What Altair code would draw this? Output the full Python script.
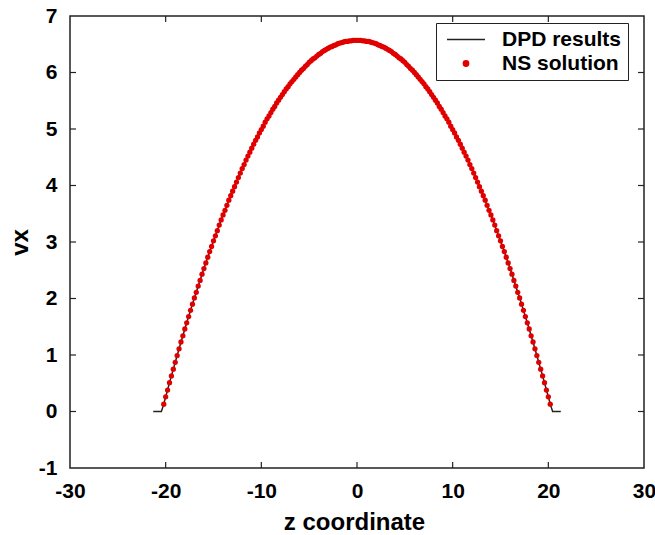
import altair as alt
import pandas as pd

# ---- data ----
series_names = ["DPD results", "NS solution"]

# NS solution sampled every 0.2 along z
ns_z = [round(-20.2 + 0.2 * i, 1) for i in range(203)]
ns_vx = [
    0.13, 0.26,
    0.38, 0.51, 0.63, 0.75, 0.87, 0.99, 1.11, 1.23, 1.34, 1.46,
    1.57, 1.68, 1.79, 1.90, 2.01, 2.11, 2.22, 2.32, 2.43, 2.53,
    2.63, 2.73, 2.83, 2.92, 3.02, 3.11, 3.20, 3.30, 3.39, 3.48,
    3.56, 3.65, 3.74, 3.82, 3.90, 3.98, 4.06, 4.14, 4.22, 4.30,
    4.37, 4.45, 4.52, 4.59, 4.66, 4.73, 4.80, 4.86, 4.93, 4.99,
    5.05, 5.12, 5.18, 5.23, 5.29, 5.35, 5.40, 5.46, 5.51, 5.56,
    5.61, 5.66, 5.71, 5.75, 5.80, 5.84, 5.88, 5.92, 5.96, 6.00,
    6.04, 6.07, 6.11, 6.14, 6.18, 6.21, 6.24, 6.26, 6.29, 6.32,
    6.34, 6.37, 6.39, 6.41, 6.43, 6.45, 6.46, 6.48, 6.49, 6.51,
    6.52, 6.53, 6.54, 6.55, 6.55, 6.56, 6.56, 6.57, 6.57,
    6.57,
    6.57, 6.57, 6.56, 6.56, 6.55, 6.55, 6.54, 6.53, 6.52,
    6.51, 6.49, 6.48, 6.46, 6.45, 6.43, 6.41, 6.39, 6.37, 6.34,
    6.32, 6.29, 6.26, 6.24, 6.21, 6.18, 6.14, 6.11, 6.07, 6.04,
    6.00, 5.96, 5.92, 5.88, 5.84, 5.80, 5.75, 5.71, 5.66, 5.61,
    5.56, 5.51, 5.46, 5.40, 5.35, 5.29, 5.23, 5.18, 5.12, 5.05,
    4.99, 4.93, 4.86, 4.80, 4.73, 4.66, 4.59, 4.52, 4.45, 4.37,
    4.30, 4.22, 4.14, 4.06, 3.98, 3.90, 3.82, 3.74, 3.65, 3.56,
    3.48, 3.39, 3.30, 3.20, 3.11, 3.02, 2.92, 2.83, 2.73, 2.63,
    2.53, 2.43, 2.32, 2.22, 2.11, 2.01, 1.90, 1.79, 1.68, 1.57,
    1.46, 1.34, 1.23, 1.11, 0.99, 0.87, 0.75, 0.63, 0.51, 0.38,
    0.26, 0.13,
]

# DPD results: same profile plus the flat wall segments at both ends
dpd_z = [-21.3, -20.45] + ns_z + [20.45, 21.3]
dpd_vx = [0.0, 0.0] + ns_vx + [0.0, 0.0]

x_tick_values = [-30, -20, -10, 0, 10, 20, 30]
y_tick_values = [-1, 0, 1, 2, 3, 4, 5, 6, 7]
x_inner_ticks = [-20, -10, 0, 10, 20]
y_inner_ticks = [0, 1, 2, 3, 4, 5, 6]

# ---- tables ----
dpd = pd.DataFrame({"z": dpd_z, "vx": dpd_vx, "series": series_names[0]})
ns = pd.DataFrame({"z": ns_z, "vx": ns_vx, "series": series_names[1]})
xt = pd.DataFrame({"z": x_inner_ticks})
yt = pd.DataFrame({"vx": y_inner_ticks})

W, H = 574, 452
FONT = "Liberation Sans"
HYPHEN_LABEL = "datum.value < 0 ? '-' + abs(datum.value) : '' + datum.value"

x_scale = alt.Scale(domain=[-30, 30], nice=False, zero=False)
y_scale = alt.Scale(domain=[-1, 7], nice=False, zero=False)
color_scale = alt.Scale(domain=series_names, range=["#222222", "#e00000"])
shape_scale = alt.Scale(domain=series_names, range=["stroke", "circle"])
size_scale = alt.Scale(domain=series_names, range=[1444, 28])

x_axis = alt.Axis(
    title="z coordinate", values=x_tick_values, grid=False, domain=False,
    ticks=False, tickSize=0, labelPadding=12, labelFlush=False,
    labelExpr=HYPHEN_LABEL,
    labelFont=FONT, labelFontSize=21, labelFontWeight="bold", labelColor="black",
    titleFont=FONT, titleFontSize=24, titleFontWeight="bold", titleColor="black",
    titleX=284, titleY=61, titleBaseline="alphabetic", titleAlign="center",
)
y_axis = alt.Axis(
    title="vx", values=y_tick_values, grid=False, domain=False,
    ticks=False, tickSize=0, labelPadding=13, labelFlush=False,
    labelExpr=HYPHEN_LABEL,
    labelFont=FONT, labelFontSize=21, labelFontWeight="bold", labelColor="black",
    titleFont=FONT, titleFontSize=24, titleFontWeight="bold", titleColor="black",
    titleX=-43, titleY=226, titleAngle=270, titleBaseline="alphabetic",
    titleAlign="center",
)

leg = alt.Legend(
    title=None, orient="none", legendX=366, legendY=7,
    padding=6, symbolOffset=4, labelOffset=16, rowPadding=2, clipHeight=21,
    strokeColor="#222222", fillColor="white", cornerRadius=0,
    labelFont=FONT, labelFontSize=21, labelFontWeight="bold", labelColor="black",
    labelExpr="datum.label + '\u00a0\u00a0\u00a0'",
    symbolStrokeWidth=1.5, symbolOpacity=1,
)

line = alt.Chart(dpd).mark_line(strokeWidth=1.5).encode(
    x=alt.X("z:Q", scale=x_scale, axis=x_axis),
    y=alt.Y("vx:Q", scale=y_scale, axis=y_axis),
    color=alt.Color("series:N", scale=color_scale, legend=leg),
)

points = alt.Chart(ns).mark_point(filled=True, opacity=1, strokeWidth=0).encode(
    x=alt.X("z:Q", scale=x_scale, axis=x_axis),
    y=alt.Y("vx:Q", scale=y_scale, axis=y_axis),
    color=alt.Color("series:N", scale=color_scale, legend=leg),
    shape=alt.Shape("series:N", scale=shape_scale, legend=leg),
    size=alt.Size("series:N", scale=size_scale, legend=leg),
)

tick_style = dict(color="#222222", strokeWidth=1.2)
bottom_ticks = alt.Chart(xt).mark_rule(**tick_style).encode(
    x=alt.X("z:Q", scale=x_scale, axis=x_axis),
    y=alt.value(H), y2=alt.value(H - 6),
)
top_ticks = alt.Chart(xt).mark_rule(**tick_style).encode(
    x=alt.X("z:Q", scale=x_scale, axis=x_axis),
    y=alt.value(0), y2=alt.value(6),
)
left_ticks = alt.Chart(yt).mark_rule(**tick_style).encode(
    y=alt.Y("vx:Q", scale=y_scale, axis=y_axis),
    x=alt.value(0), x2=alt.value(6),
)
right_ticks = alt.Chart(yt).mark_rule(**tick_style).encode(
    y=alt.Y("vx:Q", scale=y_scale, axis=y_axis),
    x=alt.value(W), x2=alt.value(W - 6),
)

chart = alt.layer(
    line, points, bottom_ticks, top_ticks, left_ticks, right_ticks
).properties(
    width=W, height=H,
    autosize=alt.AutoSizeParams(type="none"),
    padding={"left": 70, "top": 16, "right": 11, "bottom": 67},
    background="white",
).configure_view(
    stroke="#222222", strokeWidth=1.5
)

chart.save("out.html", embed_options={"renderer": "svg", "actions": False})
